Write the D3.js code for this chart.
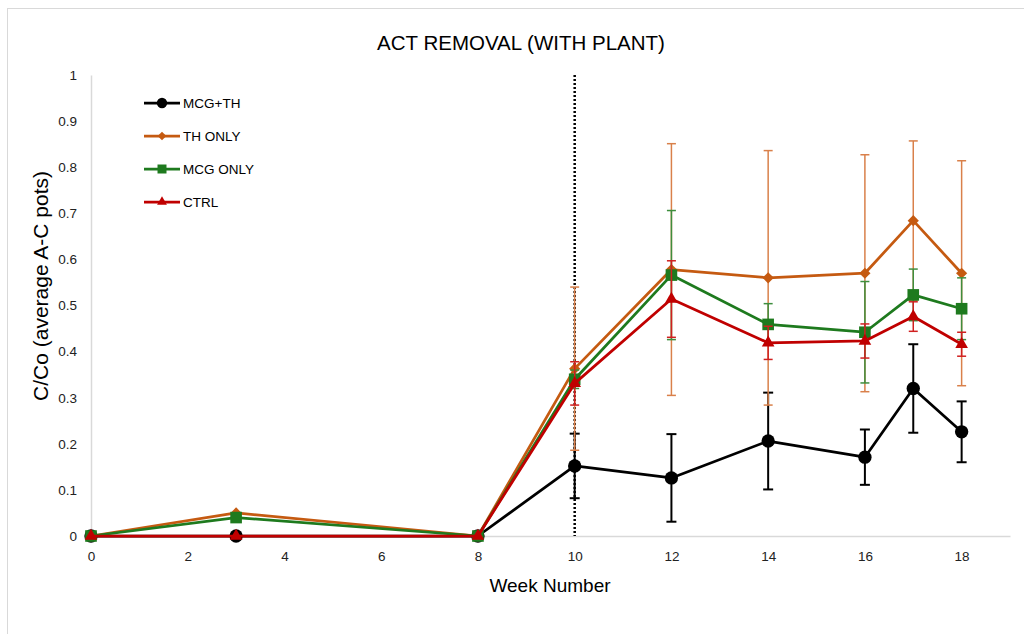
<!DOCTYPE html>
<html>
<head>
<meta charset="utf-8">
<script src="https://cdn.jsdelivr.net/npm/d3@7"></script>
<style>
  html, body { margin: 0; padding: 0; background: #fff; }
  svg { display: block; }
</style>
</head>
<body>
<svg id="chart" width="1024" height="634"></svg>
<script>
// Sampling weeks
const weeks = [0, 3, 8, 10, 12, 14, 16, 17, 18];

// Mean C/Co per treatment (average of pots A-C)
const mcgTh    = [0, 0, 0, 0.152, 0.126, 0.206, 0.171, 0.320, 0.226];
const thOnly   = [0, 0.050, 0, 0.363, 0.578, 0.560, 0.570, 0.684, 0.570];
const mcgOnly  = [0, 0.040, 0, 0.340, 0.566, 0.459, 0.442, 0.523, 0.493];
const ctrl     = [0, 0, 0, 0.331, 0.514, 0.419, 0.423, 0.476, 0.416];

// Error bar half-widths (null = no bar)
const mcgThErr   = [null, null, null, 0.070, 0.095, 0.105, 0.060, 0.096, 0.066];
const thOnlyErr  = [null, null, null, 0.177, 0.273, 0.276, 0.257, 0.173, 0.244];
const mcgOnlyErr = [null, null, null, 0.020, 0.140, 0.045, 0.110, 0.056, 0.067];
const ctrlErr    = [null, null, null, 0.047, 0.083, 0.036, 0.037, 0.032, 0.026];

const seriesNames = ["MCG+TH", "TH ONLY", "MCG ONLY", "CTRL"];
const seriesColors = ["#000000", "#C55A11", "#1E7A1E", "#C00000"];
const seriesErrColors = ["#000000", "#D9804A", "#3E8E3E", "#D02020"];
const seriesMarkers = ["circle", "diamond", "square", "triangle"];

const xTicks = [0, 2, 4, 6, 8, 10, 12, 14, 16, 18];
const yTicks = [0, 0.1, 0.2, 0.3, 0.4, 0.5, 0.6, 0.7, 0.8, 0.9, 1];
const markerWeek = 10;

const titleText = "ACT REMOVAL (WITH PLANT)";
const xTitle = "Week Number";
const yTitle = "C/Co (average A-C pots)";

const series = seriesNames.map((name, i) => ({
  name,
  color: seriesColors[i],
  errColor: seriesErrColors[i],
  marker: seriesMarkers[i],
  values: [mcgTh, thOnly, mcgOnly, ctrl][i],
  errs: [mcgThErr, thOnlyErr, mcgOnlyErr, ctrlErr][i]
}));

const svg = d3.select("#chart");
const font = "'Liberation Sans', Arial, sans-serif";

// Chart area frame
svg.append("rect")
  .attr("x", 7.5).attr("y", 8.5)
  .attr("width", 1040).attr("height", 650)
  .attr("fill", "#fff").attr("stroke", "#d9d9d9").attr("stroke-width", 1);

const plot = { left: 91, right: 1010, top: 75, bottom: 536 };

const x = d3.scaleLinear().domain([0, 19]).range([plot.left, plot.right]);
const y = d3.scaleLinear().domain([0, 1]).range([plot.bottom, plot.top]);

// Title
svg.append("text")
  .attr("x", 521).attr("y", 50)
  .attr("text-anchor", "middle")
  .attr("font-family", font).attr("font-size", 20.5)
  .attr("fill", "#000")
  .text(titleText);

// Axes
const xAxis = d3.axisBottom(x).tickValues(xTicks).tickSize(0).tickPadding(15)
  .tickFormat(d3.format("d"));
const gx = svg.append("g").attr("transform", `translate(0,${plot.bottom})`).call(xAxis);
gx.select(".domain").attr("stroke", "#d9d9d9").attr("stroke-width", 1.5);
gx.selectAll("text").attr("font-family", font).attr("font-size", 13.5).attr("fill", "#222");

const yAxis = d3.axisLeft(y).tickValues(yTicks).tickSize(0).tickPadding(14)
  .tickFormat(d => d === 0 ? "0" : d === 1 ? "1" : d3.format(".1f")(d));
const gy = svg.append("g").attr("transform", `translate(${plot.left},0)`).call(yAxis);
gy.select(".domain").attr("stroke", "#d9d9d9").attr("stroke-width", 1.5);
gy.selectAll("text").attr("font-family", font).attr("font-size", 13.5).attr("fill", "#222");

// Axis titles
svg.append("text")
  .attr("x", 550).attr("y", 592)
  .attr("text-anchor", "middle")
  .attr("font-family", font).attr("font-size", 19)
  .attr("fill", "#000")
  .text(xTitle);

svg.append("text")
  .attr("transform", `translate(48,286) rotate(-90)`)
  .attr("text-anchor", "middle")
  .attr("font-family", font).attr("font-size", 21)
  .attr("fill", "#000")
  .text(yTitle);

// Dotted reference line at week 10
svg.append("line")
  .attr("x1", x(markerWeek)).attr("x2", x(markerWeek))
  .attr("y1", plot.top).attr("y2", plot.bottom)
  .attr("stroke", "#000").attr("stroke-width", 2.5)
  .attr("stroke-dasharray", "2,2");

// Marker path generator
function markerPath(type, scale) {
  const s = scale || 1;
  const sym = {
    circle: d3.symbol(d3.symbolCircle, 140 * s),
    diamond: d3.symbol(d3.symbolDiamond2, 80 * s),
    square: d3.symbol(d3.symbolSquare, 135 * s),
    triangle: d3.symbol(d3.symbolTriangle2, 115 * s)
  }[type];
  return sym();
}

const line = d3.line().x(d => x(d.w)).y(d => y(d.v));

series.forEach(s => {
  const pts = weeks.map((w, i) => ({ w, v: s.values[i], e: s.errs[i] }));
  const g = svg.append("g");

  // Error bars
  const eb = g.selectAll("g.err").data(pts.filter(p => p.e != null)).join("g");
  const capW = s.name === "MCG+TH" ? 5 : 4.5;
  const ew = s.name === "MCG+TH" ? 2 : 1.5;
  eb.append("line")
    .attr("x1", d => x(d.w)).attr("x2", d => x(d.w))
    .attr("y1", d => y(d.v + d.e)).attr("y2", d => y(d.v - d.e))
    .attr("stroke", s.errColor).attr("stroke-width", ew);
  eb.append("line")
    .attr("x1", d => x(d.w) - capW).attr("x2", d => x(d.w) + capW)
    .attr("y1", d => y(d.v + d.e)).attr("y2", d => y(d.v + d.e))
    .attr("stroke", s.errColor).attr("stroke-width", ew);
  eb.append("line")
    .attr("x1", d => x(d.w) - capW).attr("x2", d => x(d.w) + capW)
    .attr("y1", d => y(d.v - d.e)).attr("y2", d => y(d.v - d.e))
    .attr("stroke", s.errColor).attr("stroke-width", ew);

  // Line
  g.append("path").datum(pts)
    .attr("d", line)
    .attr("fill", "none")
    .attr("stroke", s.color).attr("stroke-width", 2.75)
    .attr("stroke-linejoin", "round");

  // Markers
  g.selectAll("path.mk").data(pts).join("path")
    .attr("class", "mk")
    .attr("transform", d => `translate(${x(d.w)},${y(d.v)})`)
    .attr("d", markerPath(s.marker))
    .attr("fill", s.color);
});

// Legend
const legend = svg.append("g");
series.forEach((s, i) => {
  const ly = 103 + i * 33;
  legend.append("line")
    .attr("x1", 144).attr("x2", 180)
    .attr("y1", ly).attr("y2", ly)
    .attr("stroke", s.color).attr("stroke-width", 2.75);
  legend.append("path")
    .attr("transform", `translate(162,${ly})`)
    .attr("d", markerPath(s.marker, 0.6))
    .attr("fill", s.color);
  legend.append("text")
    .attr("x", 183).attr("y", ly + 5)
    .attr("font-family", font).attr("font-size", 13.5)
    .attr("fill", "#000")
    .text(s.name);
});
</script>
</body>
</html>
